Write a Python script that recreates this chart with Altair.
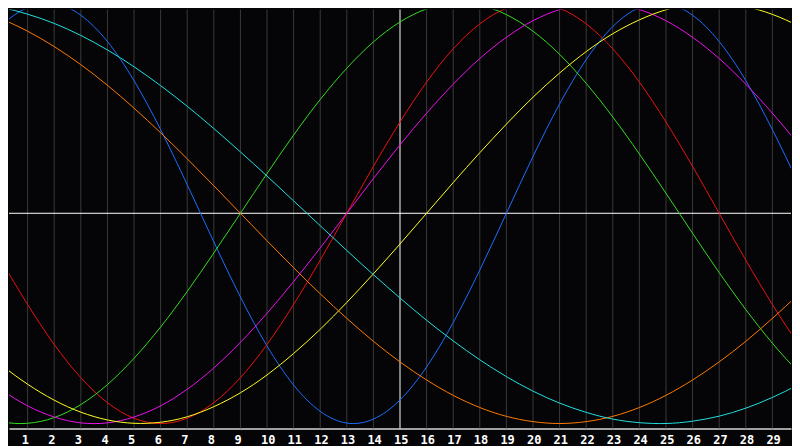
import altair as alt
import pandas as pd

# days sampled (slightly beyond the visible window)
days = list(range(-1, 32))

# cycle values, one per day from -1 to 31 (range -1..1)
blue = [0.731, 0.888, 0.979, 0.998, 0.942, 0.817, 0.631, 0.398, 0.136, -0.136,
        -0.398, -0.631, -0.817, -0.942, -0.998, -0.979, -0.888, -0.731, -0.520, -0.270,
        0.000, 0.270, 0.520, 0.731, 0.888, 0.979, 0.998, 0.942, 0.817, 0.631,
        0.398, 0.136, -0.136]
red = [0.000, -0.223, -0.434, -0.624, -0.782, -0.901, -0.975, -1.000, -0.975, -0.901,
       -0.782, -0.624, -0.434, -0.223, 0.000, 0.223, 0.434, 0.624, 0.782, 0.901,
       0.975, 1.000, 0.975, 0.901, 0.782, 0.624, 0.434, 0.223, 0.000, -0.223,
       -0.434, -0.624, -0.782]
green = [-0.945, -0.990, -0.999, -0.972, -0.910, -0.815, -0.690, -0.541, -0.372, -0.189,
         0.000, 0.189, 0.372, 0.541, 0.690, 0.815, 0.910, 0.972, 0.999, 0.990,
         0.945, 0.866, 0.756, 0.618, 0.458, 0.282, 0.095, -0.095, -0.282, -0.458,
         -0.618, -0.756, -0.866]
magenta = [-0.736, -0.837, -0.916, -0.969, -0.997, -0.997, -0.969, -0.916, -0.837, -0.736,
           -0.614, -0.476, -0.325, -0.165, 0.000, 0.165, 0.325, 0.476, 0.614, 0.736,
           0.837, 0.916, 0.969, 0.997, 0.997, 0.969, 0.916, 0.837, 0.736, 0.614,
           0.476, 0.325, 0.165]
yellow = [-0.611, -0.720, -0.813, -0.889, -0.946, -0.983, -0.999, -0.994, -0.968, -0.920,
          -0.854, -0.769, -0.667, -0.552, -0.424, -0.288, -0.146, 0.000, 0.146, 0.288,
          0.424, 0.552, 0.667, 0.769, 0.854, 0.920, 0.968, 0.994, 0.999, 0.983,
          0.946, 0.889, 0.813]
orange = [0.966, 0.924, 0.866, 0.793, 0.707, 0.609, 0.500, 0.383, 0.259, 0.131,
          0.000, -0.131, -0.259, -0.383, -0.500, -0.609, -0.707, -0.793, -0.866, -0.924,
          -0.966, -0.991, -1.000, -0.991, -0.966, -0.924, -0.866, -0.793, -0.707, -0.609,
          -0.500, -0.383, -0.259]
cyan = [0.996, 0.979, 0.947, 0.903, 0.846, 0.777, 0.697, 0.607, 0.509, 0.403,
        0.292, 0.177, 0.059, -0.059, -0.177, -0.292, -0.403, -0.509, -0.607, -0.697,
        -0.777, -0.846, -0.903, -0.947, -0.979, -0.996, -1.000, -0.989, -0.965, -0.927,
        -0.876, -0.813, -0.738]

series_names = ["blue", "red", "green", "magenta", "yellow", "orange", "cyan"]
series_values = [blue, red, green, magenta, yellow, orange, cyan]
series_colors = ["#1a6fff", "#ee1111", "#33dd22", "#ee11ee", "#ffff22", "#ff7a00", "#22e0e0"]

# tick labels / gridline days
tick_days = list(range(1, 30))
today = 15

rows = []
for name, vals in zip(series_names, series_values):
    for d, v in zip(days, vals):
        rows.append({"day": d, "value": v, "series": name})
df = pd.DataFrame(rows)

grid_df = pd.DataFrame({"day": tick_days, "today": [d == today for d in tick_days]})
zero_df = pd.DataFrame({"value": [0.0]})

x_scale = alt.Scale(domain=[0.3, 29.7], nice=False, zero=False)
y_scale = alt.Scale(domain=[-1.0237, 0.969], nice=False, zero=False)

x_axis = alt.Axis(
    values=tick_days,
    grid=False,
    ticks=False,
    domain=True,
    domainColor="#a0a0a0",
    domainWidth=2,
    labelColor="#ffffff",
    labelFont="DejaVu Sans Mono",
    labelFontWeight="bold",
    labelFontSize=12,
    labelBaseline="alphabetic",
    labelAlign="left",
    labelOffset=-6.5,
    labelPadding=15,
    labelFlush=False,
    labelOverlap=False,
    title=None,
)

grid = alt.Chart(grid_df).mark_rule(strokeWidth=1).encode(
    x=alt.X("day:Q", scale=x_scale, axis=x_axis),
    color=alt.condition("datum.today", alt.value("#ffffff"), alt.value("#3a3a3a")),
)

zero = alt.Chart(zero_df).mark_rule(color="#ffffff", strokeWidth=1).encode(
    y=alt.Y("value:Q", scale=y_scale, axis=None),
)

lines = alt.Chart(df).mark_line(strokeWidth=1, interpolate="natural", clip=True).encode(
    x=alt.X("day:Q", scale=x_scale, axis=x_axis),
    y=alt.Y("value:Q", scale=y_scale, axis=None),
    color=alt.Color(
        "series:N",
        scale=alt.Scale(domain=series_names, range=series_colors),
        legend=None,
    ),
    detail="series:N",
)

chart = (
    alt.layer(grid, zero, lines)
    .properties(width=784, height=420, background="#050507", padding=0)
    .configure_view(stroke=None, fill="#050507")
)

chart.save("out.html", embed_options={"renderer": "svg", "actions": False})
